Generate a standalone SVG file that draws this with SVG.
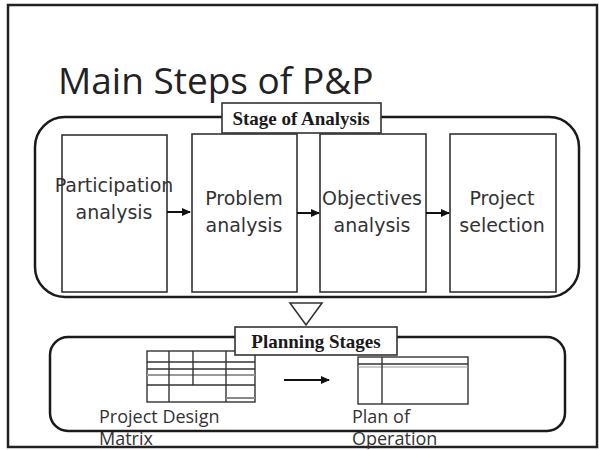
<svg xmlns="http://www.w3.org/2000/svg" width="599" height="450" viewBox="0 0 599 450">
<defs>
<marker id="ah" markerWidth="9" markerHeight="8" refX="8" refY="4" orient="auto" markerUnits="userSpaceOnUse">
<path d="M0,0 L9,4 L0,8 Z" fill="#111"/>
</marker>
<style>
.frame{fill:none;stroke:#222;stroke-width:2.5}
.stage{fill:none;stroke:#1a1a1a;stroke-width:2.5}
.box{fill:#fff;stroke:#333;stroke-width:1.6}
.lbl{fill:#fff;stroke:#333;stroke-width:1.6}
.lbltxt{font-family:"Liberation Serif",serif;font-weight:bold;font-size:19px;fill:#1a1a1a;text-anchor:middle}
.bt{font-family:"DejaVu Sans",sans-serif;font-size:19px;fill:#333;text-anchor:middle}
.st{font-family:"Open Sans",sans-serif;font-size:18px;fill:#333}
.tbl{fill:none;stroke:#333;stroke-width:1.4}
.conn{stroke:#111;stroke-width:2;fill:none}
</style>
</defs>
<rect class="frame" x="8" y="5" width="589" height="442"/>
<text id="title" x="58" y="94" font-family="Open Sans, sans-serif" font-size="37" fill="#222">Main Steps of P&amp;P</text>

<g id="stage-analysis">
<rect class="stage" x="35" y="117" width="544" height="180" rx="30"/>
</g>
<g id="participation">
<rect class="box" x="62" y="135" width="105" height="157"/>
<text class="bt" x="114" y="192">Participation</text>
<text class="bt" x="114" y="219">analysis</text>
</g>
<g id="problem">
<rect class="box" x="192" y="134" width="105" height="158"/>
<text class="bt" x="244" y="205">Problem</text>
<text class="bt" x="244" y="232">analysis</text>
</g>
<g id="objectives">
<rect class="box" x="320" y="134" width="106" height="158"/>
<text class="bt" x="372" y="205">Objectives</text>
<text class="bt" x="372" y="232">analysis</text>
</g>
<g id="selection">
<rect class="box" x="450" y="134" width="106" height="158"/>
<text class="bt" x="502" y="205">Project</text>
<text class="bt" x="502" y="232">selection</text>
</g>
<g id="stage-analysis-label">
<rect class="lbl" x="222" y="103" width="159" height="30"/>
<text class="lbltxt" x="301" y="125">Stage of Analysis</text>
</g>

<g id="planning-stage">
<rect class="stage" x="50" y="337" width="515" height="94" rx="18"/>
</g>
<g id="pdm">
<rect class="tbl" x="147" y="351" width="108" height="51"/>
<line class="tbl" x1="147" y1="362" x2="255" y2="362"/>
<line class="tbl" x1="147" y1="369" x2="255" y2="369"/>
<line x1="147" y1="375" x2="255" y2="375" stroke="#999" stroke-width="2"/>
<line class="tbl" x1="147" y1="385" x2="255" y2="385"/>
<line class="tbl" x1="169" y1="351" x2="169" y2="402"/>
<line class="tbl" x1="193" y1="351" x2="193" y2="385"/>
<line class="tbl" x1="226" y1="351" x2="226" y2="402"/>
<line x1="226" y1="398" x2="255" y2="398" stroke="#888" stroke-width="2"/>
</g>
<g id="plan-table">
<rect class="tbl" x="358" y="357" width="110" height="47"/>
<line class="tbl" x1="358" y1="364" x2="468" y2="364"/>
<line x1="358" y1="367" x2="468" y2="367" stroke="#999" stroke-width="1.2"/>
<line class="tbl" x1="382" y1="357" x2="382" y2="404"/>
</g>
<g id="planning-label">
<rect class="lbl" x="235" y="327" width="162" height="28"/>
<text class="lbltxt" x="316" y="348">Planning Stages</text>
</g>
<g id="triangle">
<path d="M290,303 L322,303 L306,325 Z" fill="#fff" stroke="#333" stroke-width="1.6"/>
</g>
<g id="pdm-text">
<text class="st" x="99" y="423">Project Design</text>
<text class="st" x="99" y="445">Matrix</text>
</g>
<g id="plan-text">
<text class="st" x="352" y="423">Plan of</text>
<text class="st" x="352" y="445">Operation</text>
</g>

<g id="connectors">
<line class="conn" x1="167" y1="212" x2="190" y2="212" marker-end="url(#ah)"/>
<line class="conn" x1="297" y1="213" x2="319" y2="213" marker-end="url(#ah)"/>
<line class="conn" x1="426" y1="213" x2="449" y2="213" marker-end="url(#ah)"/>
<line class="conn" x1="284" y1="380" x2="329" y2="380" marker-end="url(#ah)"/>
</g>
</svg>
